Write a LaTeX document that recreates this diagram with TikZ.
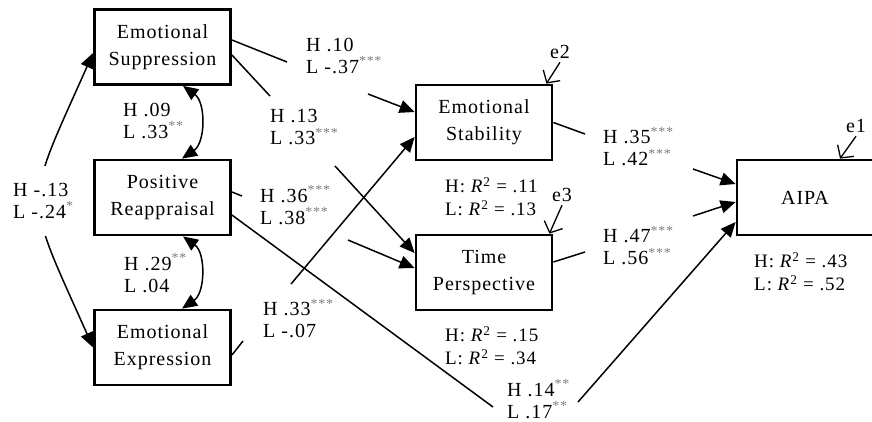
\documentclass[tikz,border=0pt]{standalone}
\usepackage{fontspec}
\setmainfont{Liberation Serif}[LetterSpace=5]
\usepackage{tikz}
\usetikzlibrary{arrows.meta}
\definecolor{stargray}{RGB}{125,125,125}
\newcommand{\sigst}[1]{\textsuperscript{\textcolor{stargray}{#1}}}
\newcommand{\rsq}{\textit{R}\textsuperscript{2}}

\begin{document}
\begin{tikzpicture}[x=1pt,y=-1pt,>={Triangle[length=15pt,width=13pt]},
  font=\fontsize{20}{22}\selectfont,
  var/.style={draw,line width=2.8pt,minimum width=136pt,minimum height=75pt,inner sep=0pt,align=center,font=\fontsize{20}{27}\selectfont},
  coef/.style={anchor=west,align=left,inner sep=0pt},
  rtext/.style={coef,font=\fontsize{19}{23}\selectfont},
  link/.style={line width=1.5pt},
  cov/.style={<->,line width=1.5pt},
  err/.style={-{Straight Barb[length=9pt,width=20pt]},line width=1.3pt}]
  \useasboundingbox (0,0) rectangle (872,421);
  \node[var] (es) at (162.5,47) {Emotional\\Suppression};
  \node[var] (pr) at (162.5,197.5) {Positive\\Reappraisal};
  \node[var] (ee) at (162.5,347.5) {Emotional\\Expression};
  \node[var] (stab) at (484,122.5) {Emotional\\Stability};
  \node[var] (tp) at (484,272.5) {Time\\Perspective};
  \node[var] (aipa) at (805,197.5) {AIPA};
  \node (e1) at (856,126) {e1};
  \node (e2) at (560,52) {e2};
  \node (e3) at (562,195) {e3};
  \draw[err] (e2.south) -- ([xshift=-7pt]stab.north east);
  \draw[err] (e3.south) -- ([xshift=-4pt]tp.north east);
  \draw[err] (e1.south) -- ([xshift=35pt]aipa.north);
  \coordinate (g1a) at (287,62);  \coordinate (g1b) at (368,94);
  \coordinate (g2a) at (270,96);  \coordinate (g2b) at (335,166);
  \coordinate (g3a) at (242,196); \coordinate (g3b) at (348,240);
  \coordinate (g4a) at (243,341); \coordinate (g4b) at (291,284);
  \coordinate (g5a) at (493,407); \coordinate (g5b) at (578,402);
  \coordinate (g6a) at (585,134); \coordinate (g6b) at (693,169);
  \coordinate (g7a) at (585,252); \coordinate (g7b) at (693,216);
  \draw[link] ([yshift=7pt]es.east) -- (g1a);
  \draw[link,->] (g1b) -- ([yshift=10.5pt]stab.west);
  \draw[link] ([yshift=-8pt]es.east) -- (g2a);
  \draw[link,->] (g2b) -- ([yshift=19.5pt]tp.west);
  \draw[link] ([yshift=5.5pt]pr.east) -- (g3a);
  \draw[link,->] (g3b) -- ([yshift=4.5pt]tp.west);
  \draw[link] ([yshift=-7.5pt]ee.east) -- (g4a);
  \draw[link,->] (g4b) -- ([yshift=-14.5pt]stab.west);
  \draw[link] ([yshift=-17.5pt]pr.east) -- (g5a);
  \draw[link,->] (g5b) -- ([yshift=-24.5pt]aipa.west);
  \draw[link] (stab.east) -- (g6a);
  \draw[link,->] (g6b) -- ([yshift=13.5pt]aipa.west);
  \draw[link] ([yshift=10.5pt]tp.east) -- (g7a);
  \draw[link,->] (g7b) -- ([yshift=-4.5pt]aipa.west);
  \draw[cov] ([xshift=20.5pt]es.south) to[bend left=55] ([xshift=19.5pt]pr.north);
  \draw[cov] ([xshift=20.5pt]pr.south) to[bend left=55] ([xshift=19.5pt]ee.north);
  \draw[cov] ([yshift=-6pt]es.west) to[bend right=24,looseness=1.5] (ee.west);
  \node[coef] (c1) at (306,56) {H .10\\L -.37\sigst{***}};
  \node[coef] (c2) at (270,127.5) {H .13\\L .33\sigst{***}};
  \node[coef] (c3) at (260,205) {H .36\sigst{***}\\L .38\sigst{***}};
  \node[coef] (c4) at (263,318.5) {H .33\sigst{***}\\L -.07};
  \node[coef] (c5) at (507,399) {H .14\sigst{**}\\L .17\sigst{**}};
  \node[coef] (c6) at (603,146.5) {H .35\sigst{***}\\L .42\sigst{***}};
  \node[coef] (c7) at (603,245.5) {H .47\sigst{***}\\L .56\sigst{***}};
  \node[coef] (c8) at (123,121) {H .09\\L .33\sigst{**}};
  \node[coef] (c9) at (124,273) {H .29\sigst{**}\\L .04};
  \node[coef,fill=white,inner xsep=6pt,inner ysep=17pt] (c10) at (7,201) {H -.13\\L -.24\sigst{*}};
  \node[rtext] (r1) at (445,196.5) {H: \rsq{} = .11\\L: \rsq{} = .13};
  \node[rtext] (r2) at (445,346) {H: \rsq{} = .15\\L: \rsq{} = .34};
  \node[rtext] (r3) at (754,272) {H: \rsq{} = .43\\L: \rsq{} = .52};
\end{tikzpicture}
\end{document}
